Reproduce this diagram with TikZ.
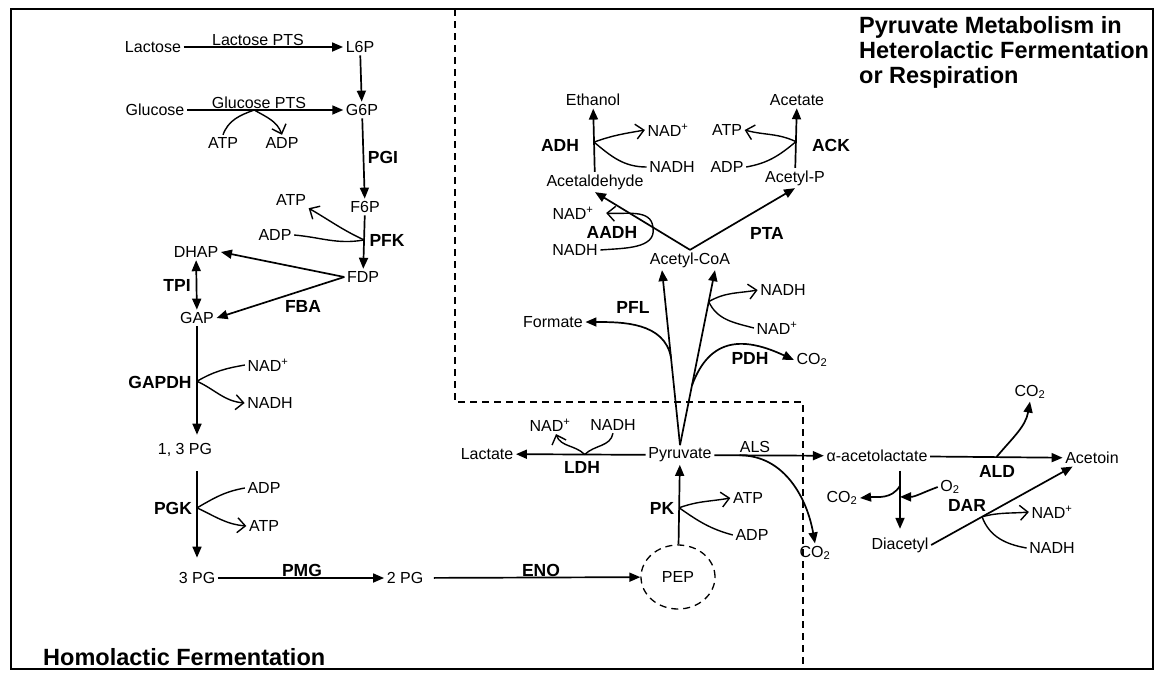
\documentclass[tikz,border=0pt]{standalone}
\usepackage{fontspec}
\setmainfont{Liberation Sans}
\usetikzlibrary{arrows.meta,shapes.geometric}

\tikzset{
  rxn/.style={line width=1.7pt,-{Triangle[length=11pt,width=9pt]}},
  both/.style={line width=1.7pt,{Triangle[length=11pt,width=9pt]}-{Triangle[length=11pt,width=9pt]}},
  cof/.style={line width=1.4pt},
  cofto/.style={line width=1.4pt,-{Straight Barb[length=8pt,width=15pt,line width=1.4pt]}},
  mol/.style={font=\fontsize{16}{19}\selectfont,inner sep=2.5pt},
  enz/.style={font=\bfseries\fontsize{17.5}{20}\selectfont},
  ttl/.style={font=\bfseries\fontsize{23.5}{25}\selectfont,inner sep=0pt},
}

\begin{document}
\begin{tikzpicture}[x=1pt,y=-1pt,every node/.style={mol}]
  \useasboundingbox (0,0) rectangle (1163,673);

  % frame and regions
  \draw[line width=1.8pt] (11,9) rectangle (1153,669);
  \draw[line width=1.4pt,dash pattern=on 7pt off 5pt] (455,9) -- (455,402) -- (803,402) -- (803,669);
  \node[ttl,anchor=north west,align=left] (ttlpyr) at (859,16) {Pyruvate Metabolism in\\Heterolactic Fermentation\\or Respiration};
  \node[ttl,anchor=base west] (ttlhomo) at (43,665) {Homolactic Fermentation};

  % glycolysis
  \node (lactose) at (153,47) {Lactose};
  \node (l6p) at (360,47) {L6P};
  \node (glucose) at (155,110) {Glucose};
  \node (g6p) at (362,110) {G6P};
  \node (atpa) at (223,143) {ATP};
  \node (adpa) at (282,143) {ADP};
  \node (f6p) at (365,207) {F6P};
  \node (atpb) at (291,200) {ATP};
  \node (adpb) at (275,235) {ADP};
  \node (fdp) at (363,277) {FDP};
  \node (dhap) at (196,252) {DHAP};
  \node (gap) at (197,318) {GAP};
  \node (nada) at (268,365) {NAD\textsuperscript{+}};
  \node (nadha) at (270,403) {NADH};
  \node (pg13) at (185,450) {1, 3 PG};
  \node (adpc) at (264,488) {ADP};
  \node (atpc) at (264,526) {ATP};
  \node (pg3) at (197,578) {3 PG};
  \node (pg2) at (405,578) {2 PG};
  \node[ellipse,draw,line width=1.3pt,dash pattern=on 7pt off 5pt,minimum width=74pt,minimum height=64pt] (pep) at (678,577) {PEP};

  \node[anchor=base] (lacpts) at (258,45) {Lactose PTS};
  \node[anchor=base] (glupts) at (259,108) {Glucose PTS};
  \node[enz] (pgi) at (383,157) {PGI};
  \node[enz] (pfk) at (387,240) {PFK};
  \node[enz] (tpi) at (177,285) {TPI};
  \node[enz] (fba) at (303,306) {FBA};
  \node[enz] (gapdh) at (160,382) {GAPDH};
  \node[enz] (pgk) at (173,508) {PGK};
  \node[enz,anchor=base] (pmg) at (302,576) {PMG};
  \node[enz,anchor=base] (eno) at (541,576) {ENO};

  \draw[rxn] (lactose) -- (l6p);
  \draw[rxn] (l6p) -- (g6p);
  \draw[rxn] (glucose) -- coordinate[pos=0.43] (gptsj) (g6p);
  \draw[cof] (atpa.north) to[out=70,in=200] (gptsj);
  \draw[cofto] (gptsj) to[out=-30,in=110] (adpa.north);
  \draw[rxn] (g6p) -- (f6p);
  \draw[rxn] (f6p) -- coordinate[pos=0.46] (pfkj) (fdp);
  \draw[cofto] (pfkj) to[out=155,in=-30] (atpb.south east);
  \draw[cof] (adpb.east) to[out=-5,in=190] (pfkj);
  \draw[rxn] (fdp.west) -- (dhap.east);
  \draw[rxn] (fdp.west) -- (gap.east);
  \draw[both] (dhap) -- (gap);
  \draw[rxn,shorten >=6pt] (gap) -- coordinate[pos=0.48] (gapdhj) (gap |- pg13.north);
  \draw[cof] (nada.west) to[out=190,in=30] (gapdhj);
  \draw[cofto] (gapdhj) to[out=-25,in=175] (nadha.west);
  \draw[rxn,shorten <=12pt,shorten >=12pt] (pg3 |- pg13.south) -- coordinate[pos=0.44] (pgkj) (pg3);
  \draw[cof] (adpc.west) to[out=190,in=30] (pgkj);
  \draw[cofto] (pgkj) to[out=-25,in=175] (atpc.west);
  \draw[rxn] (pg3) -- (pg2);
  \draw[rxn,shorten <=8pt] (pg2) -- (pep);

  % pyruvate metabolism
  \node (pyr) at (680,455) {Pyruvate};
  \node (lactate) at (487,454) {Lactate};
  \node (nadl) at (550,425) {NAD\textsuperscript{+}};
  \node (nadhl) at (613,425) {NADH};
  \node (acl) at (877,456) {α-acetolactate};
  \node (co2a) at (815,553) {CO\textsubscript{2}};
  \node (acetoin) at (1092,458) {Acetoin};
  \node (co2b) at (1030,392) {CO\textsubscript{2}};
  \node (diacetyl) at (900,545) {Diacetyl};
  \node (co2c) at (842,498) {CO\textsubscript{2}};
  \node (o2) at (950,487) {O\textsubscript{2}};
  \node (nadd) at (1052,512) {NAD\textsuperscript{+}};
  \node (nadhd) at (1052,548) {NADH};
  \node (atpp) at (748,498) {ATP};
  \node (adpp) at (752,535) {ADP};
  \node (ethanol) at (593,100) {Ethanol};
  \node (acetate) at (797,100) {Acetate};
  \node (acetald) at (595,182) {Acetaldehyde};
  \node (acetylp) at (795,178) {Acetyl-P};
  \node (nade) at (668,130) {NAD\textsuperscript{+}};
  \node (nadhe) at (672,167) {NADH};
  \node (atpe) at (727,130) {ATP};
  \node (adpe) at (727,167) {ADP};
  \node (acoa) at (690,260) {Acetyl-CoA};
  \node (nadf) at (573,213) {NAD\textsuperscript{+}};
  \node (nadhf) at (575,250) {NADH};
  \node (formate) at (553,322) {Formate};
  \node (nadhg) at (783,290) {NADH};
  \node (nadg) at (777,328) {NAD\textsuperscript{+}};
  \node (co2d) at (812,360) {CO\textsubscript{2}};

  \node[enz] (ldh) at (582,467) {LDH};
  \node[anchor=base] (als) at (755,452) {ALS};
  \node[enz] (ald) at (997,471) {ALD};
  \node[enz] (dar) at (967,505) {DAR};
  \node[enz] (pk) at (662,508) {PK};
  \node[enz] (adh) at (560,145) {ADH};
  \node[enz] (ack) at (831,145) {ACK};
  \node[enz] (aadh) at (612,232) {AADH};
  \node[enz] (pta) at (767,233) {PTA};
  \node[enz] (pfl) at (633,307) {PFL};
  \node[enz] (pdh) at (750,358) {PDH};

  \draw[rxn] (pep) -- coordinate[pos=0.46] (pkj) (pyr);
  \draw[cofto] (pkj) to[out=20,in=190] (atpp.west);
  \draw[cof] (pkj) to[out=-35,in=165] (adpp.west);
  \draw[rxn] (pyr) -- coordinate[pos=0.47] (ldhj) (lactate);
  \draw[cof] (nadhl.south) to[out=-100,in=45] (ldhj);
  \draw[cofto] (ldhj) to[out=135,in=-70] ([xshift=6pt]nadl.south);
  \draw[rxn] (pyr) -- coordinate[pos=0.23] (alsj) (acl);
  \draw[rxn] (alsj) to[out=0,in=100] (co2a.north);
  \draw[rxn] (acl) -- coordinate[pos=0.5] (aldj) (acetoin);
  \draw[rxn] (aldj) to[out=50,in=-100] (co2b.south);
  \draw[rxn,shorten <=6pt,shorten >=6pt] (acl.south -| diacetyl) -- coordinate[pos=0.3] (dj) coordinate[pos=0.46] (dj2) (diacetyl);
  \draw[rxn] (dj) to[out=-120,in=5] (co2c.east);
  \draw[rxn] (o2.west) to[out=200,in=0] (dj2);
  \draw[rxn] (diacetyl.east) -- coordinate[pos=0.36] (darj) ([xshift=10pt]acetoin.south west);
  \draw[cofto] (darj) to[out=15,in=185] (nadd.west);
  \draw[cof] (darj) to[out=-70,in=170] (nadhd.west);

  \draw[rxn] (pyr.north) -- coordinate[pos=0.5] (pflj) ([xshift=-28pt]acoa.south);
  \draw[rxn] (pyr.north) -- coordinate[pos=0.34] (pdhj2) coordinate[pos=0.82] (pdhj1) ([xshift=25pt]acoa.south);
  \draw[rxn] (pflj) to[out=100,in=0] (formate.east);
  \draw[cofto] (pdhj1) to[out=30,in=190] (nadhg.west);
  \draw[cof] (pdhj1) to[out=-65,in=165] (nadg.west);
  \draw[rxn] (pdhj2) to[out=70,in=155,looseness=1.3] (co2d.west);

  \draw[rxn] (acoa.north) -- coordinate[pos=0.39] (aadhj) (acetald.south);
  \draw[rxn] (acoa.north) -- (acetylp.south);
  \draw[cof] (nadhf.east) to[out=5,in=-80] (aadhj);
  \draw[cofto] (aadhj) to[out=95,in=-5] ([xshift=10pt]nadf.east);
  \draw[rxn] (acetald) -- coordinate[pos=0.47] (adhj) (ethanol);
  \draw[cofto] (adhj) to[out=20,in=190] (nade.west);
  \draw[cof] (adhj) to[out=-40,in=180] (nadhe.west);
  \draw[rxn] (acetylp) -- coordinate[pos=0.44] (ackj) (acetate);
  \draw[cofto] (ackj) to[out=155,in=-15] (atpe.east);
  \draw[cof] (adpe.east) to[out=10,in=-140] (ackj);
\end{tikzpicture}
\end{document}
